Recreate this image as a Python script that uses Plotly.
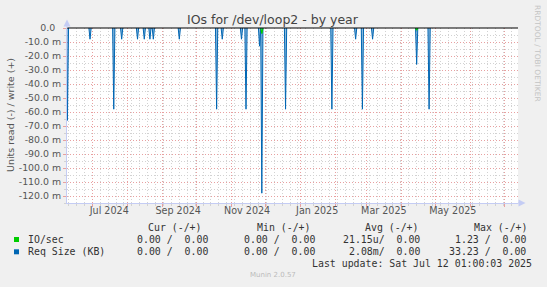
import plotly.graph_objects as go
import pandas as pd

# ---------------- data ----------------
spike_dates = ["2024-06-09", "2024-06-29", "2024-07-20", "2024-07-27", "2024-08-10",
               "2024-08-16", "2024-08-21", "2024-08-24", "2024-09-16", "2024-10-19",
               "2024-10-24", "2024-11-10", "2024-11-14", "2024-11-26", "2024-11-28",
               "2024-12-19", "2025-01-29", "2025-02-19", "2025-02-25", "2025-03-06",
               "2025-04-14", "2025-04-25"]
req_size_read = [-66, -8, -58, -8, -8, -8, -8, -8, -8, -58, -8, -8, -58, -13, -118,
                 -58, -58, -8, -58, -8, -26, -58]          # milli units
io_dates = ["2024-11-28", "2025-04-14"]
io_read = [-4, -1.5]

y_ticks = [0, -10, -20, -30, -40, -50, -60, -70, -80, -90, -100, -110, -120]
x_label_dates = ["2024-07-16", "2024-09-15", "2024-11-15", "2025-01-16", "2025-03-16", "2025-05-16"]
x_labels = ["Jul 2024", "Sep 2024", "Nov 2024", "Jan 2025", "Mar 2025", "May 2025"]

legend_names = ["IO/sec", "Req Size (KB)"]
legend_colors = ["#00CC00", "#0066B3"]
headers = ["Cur (-/+)", "Min (-/+)", "Avg (-/+)", "Max (-/+)"]
row_values = [["0.00 /  0.00", "0.00 /  0.00", "21.15u/  0.00", "1.23 /  0.00"],
              ["0.00 /  0.00", "0.00 /  0.00", "2.08m/  0.00", "33.23 /  0.00"]]
last_update = "Last update: Sat Jul 12 01:00:03 2025"


def spike_series(dates, vals):
    """Each reading is one daily sample; its neighbouring days read zero."""
    pts = {}
    for d, v in zip(dates, vals):
        t = pd.Timestamp(d)
        for nb in (t - pd.Timedelta(days=1), t + pd.Timedelta(days=1)):
            pts.setdefault(nb, 0)
        pts[t] = v
    keys = sorted(pts)
    xs, ys = [], []
    for i, k in enumerate(keys):
        if i and (k - keys[i - 1]) > pd.Timedelta(days=1):
            xs.append(None)
            ys.append(None)
        xs.append(k)
        ys.append(pts[k])
    return xs, ys


W, H = 547, 287
L, R, T, B = 67, 29, 28, 84
PW, PH = W - L - R, H - T - B


def X(px):
    return (px - L) / PW


def Y(py):
    return (H - B - py) / PH


fig = go.Figure()
bx, by = spike_series(spike_dates, req_size_read)
fig.add_trace(go.Scatter(x=bx, y=by, mode="lines", line=dict(color="#0066B3", width=1),
                         fill="tozeroy", fillcolor="rgba(0,102,179,0.45)", hoverinfo="skip",
                         connectgaps=False))
gx, gy = spike_series(io_dates, io_read)
fig.add_trace(go.Scatter(x=gx, y=gy, mode="lines", line=dict(color="#00CC00", width=1.2),
                         hoverinfo="skip", connectgaps=False))
# invisible trace for the label axis
fig.add_trace(go.Scatter(x=[x_label_dates[0]], y=[0], xaxis="x2", mode="markers",
                         marker=dict(opacity=0), hoverinfo="skip"))

xr = ["2024-06-08 15:00", "2025-07-12 16:00"]
major = "#E8A0A0"
minorc = "#D2D2D2"
fig.update_layout(
    width=W, height=H, margin=dict(l=L, r=R, t=T, b=B),
    paper_bgcolor="#F0F0F0", plot_bgcolor="#FFFFFF", showlegend=False,
    font=dict(family="DejaVu Sans", size=9.5, color="#555555"),
    xaxis=dict(type="date", range=xr, dtick="M1", tick0="2024-07-01", showticklabels=False,
               showgrid=True, gridcolor=major, griddash="1px,2px", gridwidth=1,
               ticks="outside", ticklen=3, tickcolor=major,
               minor=dict(dtick=7 * 86400000, tick0="2024-07-01", showgrid=True,
                          gridcolor=minorc, griddash="1px,2px", ticks="outside",
                          ticklen=2, tickcolor=minorc),
               showline=True, linecolor="#C4CCF4", zeroline=False, fixedrange=True),
    xaxis2=dict(type="date", range=xr, overlaying="x", side="bottom", tickvals=x_label_dates,
                ticktext=x_labels, showgrid=False, ticks="", showline=False, zeroline=False,
                tickfont=dict(family="DejaVu Sans", size=9.6, color="#555555")),
    yaxis=dict(range=[-125, 0], tickvals=y_ticks,
               ticktext=[("0.0\u00a0\u00a0" if v == 0 else f"{v:.1f} m") for v in y_ticks],
               showgrid=True, gridcolor=major, griddash="1px,2px",
               ticks="outside", ticklen=3, tickcolor=major,
               minor=dict(dtick=5, showgrid=True, gridcolor=minorc, griddash="1px,2px",
                          ticks="outside", ticklen=2, tickcolor=minorc),
               showline=True, linecolor="#C4CCF4", zeroline=False,
               tickfont=dict(family="DejaVu Sans", size=9.4, color="#555555")),
)

shapes = [
    dict(type="line", xref="paper", yref="paper", x0=0, x1=1, y0=1, y1=1,
         line=dict(color="#000000", width=1)),
    dict(type="line", xref="paper", yref="paper", x0=1, x1=X(521), y0=0, y1=0,
         line=dict(color="#C4CCF4", width=1)),
    dict(type="line", xref="paper", yref="paper", x0=0, x1=0, y0=1, y1=Y(25),
         line=dict(color="#C4CCF4", width=1)),
    dict(type="path", xref="paper", yref="paper", fillcolor="#C4CCF4", line=dict(width=0),
         path=f"M {X(63.5)},{Y(26.5)} L {X(70.5)},{Y(26.5)} L {X(67)},{Y(19.5)} Z"),
    dict(type="path", xref="paper", yref="paper", fillcolor="#C4CCF4", line=dict(width=0),
         path=f"M {X(518.5)},{Y(199.5)} L {X(518.5)},{Y(206.5)} L {X(525.5)},{Y(203)} Z"),
]
sq_y = [(237, 242), (249.3, 254.3)]
for c, (y0, y1) in zip(legend_colors, sq_y):
    shapes.append(dict(type="rect", xref="paper", yref="paper", x0=X(14), x1=X(19),
                       y0=Y(y1), y1=Y(y0), fillcolor=c, line=dict(width=0)))
fig.update_layout(shapes=shapes)

mono = dict(family="DejaVu Sans Mono", size=9.9, color="#333333")
ann = []


def A(text, px, py, xanchor="left", font=None, angle=0):
    ann.append(dict(text=text.replace(" ", "\u00a0"), x=X(px), y=Y(py), xref="paper",
                    yref="paper", xanchor=xanchor, yanchor="middle", showarrow=False,
                    borderpad=0, textangle=angle, font=font or mono))


A("IOs for /dev/loop2 - by year", 273, 19.8, "center",
  dict(family="DejaVu Sans", size=12.5, color="#444444"))
A("Units read (-) / write (+)", 10.5, 115.5, "center",
  dict(family="DejaVu Sans", size=9.5, color="#555555"), -90)
A("RRDTOOL / TOBI OETIKER", 537.5, 53.5, "center",
  dict(family="DejaVu Sans", size=7.5, color="#C4C4C4"), 90)
for h, px in zip(headers, [147.3, 255.7, 363.9, 472.8]):
    A(h, px, 227.7)
for name, py, vals in zip(legend_names, [239.3, 251.3], row_values):
    A(name, 26.7, py)
    for v, px in zip(vals, [209.3, 315.8, 421.1, 526.8]):
        A(v, px, py, "right")
A(last_update, 532.8, 263.3, "right")
A("Munin 2.0.57", 273, 275.3, "center", dict(family="DejaVu Sans", size=7, color="#BBBBBB"))
fig.update_layout(annotations=ann)

fig.write_html("out.html")
